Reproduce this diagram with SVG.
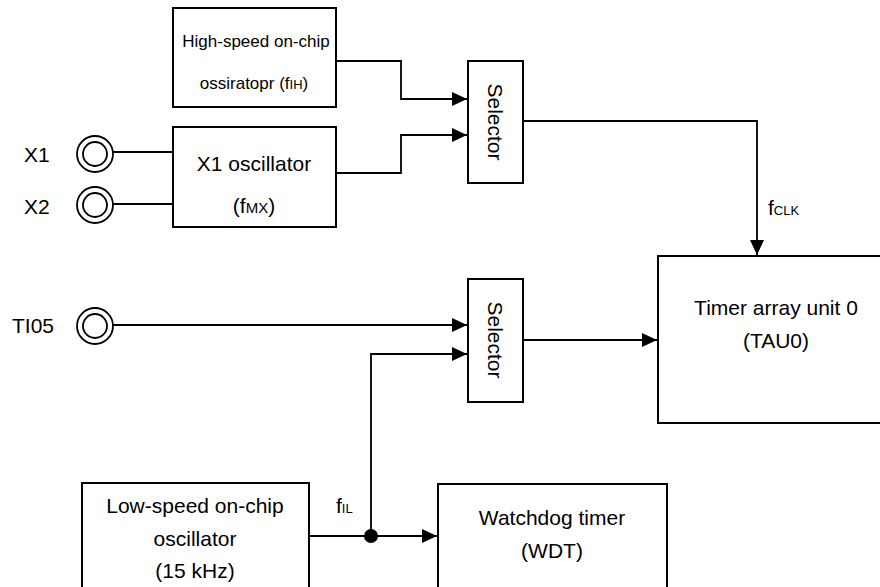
<svg xmlns="http://www.w3.org/2000/svg" width="880" height="587" viewBox="0 0 880 587">
<defs>
<marker id="arr" markerWidth="16" markerHeight="14" refX="15" refY="7" orient="auto" markerUnits="userSpaceOnUse">
<path d="M0,0 L15,7 L0,14 Z" fill="#000"/>
</marker>
<style>
.box{fill:#fff;stroke:#000;stroke-width:2}
.pin{fill:none;stroke:#000;stroke-width:1.8}
.ln{fill:none;stroke:#000;stroke-width:1.8}
text{font-family:"Liberation Sans",Arial,Helvetica,sans-serif;font-size:21px;fill:#000}
.c{text-anchor:middle}
.sm{font-size:17px}
.sub{font-size:13px}
</style>
</defs>
<rect width="880" height="587" fill="#fff"/>

<g id="connectors">
<polyline class="ln" points="336,61 401,61 401,99 467,99" marker-end="url(#arr)"/>
<polyline class="ln" points="336,173 401,173 401,135 467,135" marker-end="url(#arr)"/>
<line class="ln" x1="113" y1="152" x2="173" y2="152"/>
<line class="ln" x1="113" y1="204" x2="173" y2="204"/>
<polyline class="ln" points="523,121 757,121 757,255" marker-end="url(#arr)"/>
<line class="ln" x1="113" y1="325" x2="467" y2="325" marker-end="url(#arr)"/>
<line class="ln" x1="523" y1="340" x2="657" y2="340" marker-end="url(#arr)"/>
<polyline class="ln" points="371,536 371,354 467,354" marker-end="url(#arr)"/>
<line class="ln" x1="309" y1="536" x2="437" y2="536" marker-end="url(#arr)"/>
<circle cx="371" cy="536" r="7" fill="#000"/>
<text x="768" y="215" font-size="18">f<tspan class="sub">CLK</tspan></text>
<text x="336" y="513" font-size="18">f<tspan class="sub">IL</tspan></text>
</g>

<g id="pin-X1">
<circle class="pin" cx="95" cy="154" r="18"/>
<circle class="pin" cx="95" cy="154" r="12"/>
<text x="24" y="162" font-size="20">X1</text>
</g>
<g id="pin-X2">
<circle class="pin" cx="95" cy="205" r="18"/>
<circle class="pin" cx="95" cy="205" r="12"/>
<text x="24" y="214" font-size="20">X2</text>
</g>
<g id="pin-TI05">
<circle class="pin" cx="95" cy="326" r="18"/>
<circle class="pin" cx="95" cy="326" r="12"/>
<text x="12" y="333" font-size="20">TI05</text>
</g>

<g id="hoco">
<rect class="box" x="173" y="8" width="163" height="99"/>
<text class="c sm" x="256" y="47">High-speed on-chip</text>
<text class="c sm" x="254" y="89">ossiratopr (f<tspan class="sub">IH</tspan>)</text>
</g>

<g id="x1osc">
<rect class="box" x="173" y="127" width="163" height="100"/>
<text class="c" x="254" y="171">X1 oscillator</text>
<text class="c" x="254" y="213">(f<tspan font-size="15px">MX</tspan>)</text>
</g>

<g id="selector1">
<rect class="box" x="468" y="61" width="55" height="122"/>
<text class="c" transform="translate(488,122) rotate(90)">Selector</text>
</g>

<g id="selector2">
<rect class="box" x="468" y="279" width="55" height="123"/>
<text class="c" transform="translate(488,340) rotate(90)">Selector</text>
</g>

<g id="tau0">
<rect class="box" x="658" y="256" width="240" height="167"/>
<text class="c" x="776" y="315">Timer array unit 0</text>
<text class="c" x="776" y="348">(TAU0)</text>
</g>

<g id="loco">
<rect class="box" x="82" y="483" width="227" height="110"/>
<text class="c" x="195" y="513">Low-speed on-chip</text>
<text class="c" x="195" y="546">oscillator</text>
<text class="c" x="195" y="578">(15 kHz)</text>
</g>

<g id="wdt">
<rect class="box" x="438" y="484" width="229" height="110"/>
<text class="c" x="552" y="525">Watchdog timer</text>
<text class="c" x="552" y="558">(WDT)</text>
</g>
</svg>
